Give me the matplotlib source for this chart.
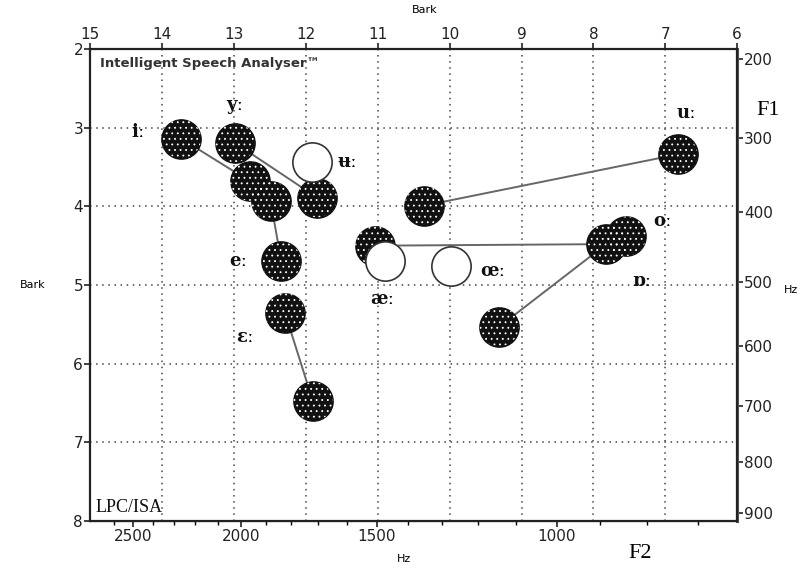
import numpy as np
import matplotlib.pyplot as plt

# vowel formants, in Bark (F2 on x, F1 on y)
filled_f2 = [13.73, 12.99, 12.78, 12.49, 11.84, 12.34, 12.29, 11.90,
             6.83, 10.35, 11.04, 7.54, 7.82, 9.31]
filled_f1 = [3.14, 3.19, 3.68, 3.93, 3.89, 4.70, 5.35, 6.48,
             3.34, 3.99, 4.50, 4.38, 4.48, 5.53]
open_f2 = [11.92, 10.90, 9.98]
open_f1 = [3.43, 4.69, 4.76]
# pairs of filled points joined by a line (indexes into filled_*)
links = [(0, 2), (1, 4), (3, 5), (6, 7), (8, 9), (10, 12), (13, 12)]

vowel_labels = ['iː', 'yː', 'ʉː', 'uː', 'oː', 'ɒː', 'œː', 'æː', 'eː', 'ɛː']
label_f2 = [14.33, 12.99, 11.42, 6.71, 7.04, 7.33, 9.40, 10.94, 12.94, 12.85]
label_f1 = [3.05, 2.71, 3.44, 2.81, 4.18, 4.95, 4.82, 5.18, 4.70, 5.66]

bark_x_ticks = [15, 14, 13, 12, 11, 10, 9, 8, 7, 6]
bark_y_ticks = [2, 3, 4, 5, 6, 7, 8]
hz_f2_ticks = [2500, 2000, 1500, 1000]
hz_f1_ticks = [200, 300, 400, 500, 600, 700, 800, 900]


# Schroeder bark scale
def hz2bark(f):
    return 7 * np.arcsinh(np.asarray(f, dtype=float) / 650)


def bark2hz(z):
    return 650 * np.sinh(np.asarray(z, dtype=float) / 7)


plt.rcParams['hatch.linewidth'] = 0.6
fig = plt.figure(figsize=(8.01, 5.68), dpi=100)
ax = fig.add_axes([0.1124, 0.0827, 0.808, 0.831])
ax.set_xlim(15, 6)
ax.set_ylim(8, 2)

ax.set_xticks(bark_x_ticks)
ax.set_yticks(bark_y_ticks)
ax.xaxis.tick_top()
ax.tick_params(axis='both', direction='out', length=4, width=1.2,
               labelsize=11, pad=1, colors='#222')
ax.grid(True, linestyle=(0, (1, 3)), color='#444', linewidth=1.1)
for s in ax.spines.values():
    s.set_linewidth(1.6)
    s.set_color('#222')

# bottom axis in Hz
sec_x = ax.secondary_xaxis('bottom', functions=(bark2hz, hz2bark))
sec_x.set_xticks(hz_f2_ticks)
sec_x.set_xticks(np.arange(700, 2700, 100), minor=True)
sec_x.tick_params(direction='out', length=4, width=1.2, labelsize=11,
                  pad=2, colors='#222')
sec_x.tick_params(which='minor', length=3, width=1)

# right axis in Hz
sec_y = ax.secondary_yaxis('right', functions=(bark2hz, hz2bark))
sec_y.set_yticks(hz_f1_ticks)
sec_y.tick_params(direction='out', length=4, width=1.2, labelsize=11,
                  pad=1, colors='#222')
sec_y.spines['right'].set_linewidth(2.2)
sec_y.spines['right'].set_color('#555')

for a, b in links:
    ax.plot([filled_f2[a], filled_f2[b]], [filled_f1[a], filled_f1[b]],
            color='#666', linewidth=1.4, zorder=3)

ax.scatter(filled_f2, filled_f1, s=800, color='#111', zorder=4)
ax.scatter(filled_f2, filled_f1, s=800, facecolor='none', edgecolor='white',
           hatch='...', linewidths=0, zorder=5)
ax.scatter(open_f2, open_f1, s=800, facecolor='white', edgecolor='#333',
           linewidths=1.2, zorder=6)

for t, x, y in zip(vowel_labels, label_f2, label_f1):
    ax.text(x, y, t, ha='center', va='center', fontsize=13, fontweight='bold',
            family=['DejaVu Serif'], color='#111', zorder=7)

ax.text(0.015, 0.97, 'Intelligent Speech Analyser™', transform=ax.transAxes,
        ha='left', va='center', fontsize=9.5, fontweight='bold', color='#333')
ax.text(0.008, 0.028, 'LPC/ISA', transform=ax.transAxes, ha='left',
        va='center', fontsize=13, family='Liberation Serif', color='#111')

fig.text(0.53, 0.982, 'Bark', ha='center', va='center', fontsize=8)
fig.text(0.041, 0.498, 'Bark', ha='center', va='center', fontsize=8)
fig.text(0.504, 0.016, 'Hz', ha='center', va='center', fontsize=8)
fig.text(0.978, 0.489, 'Hz', ha='left', va='center', fontsize=8)
fig.text(0.959, 0.806, 'F1', ha='center', va='center', fontsize=16,
         family='Liberation Serif')
fig.text(0.799, 0.026, 'F2', ha='center', va='center', fontsize=16,
         family='Liberation Serif')

fig.savefig('out.png', dpi=100)
